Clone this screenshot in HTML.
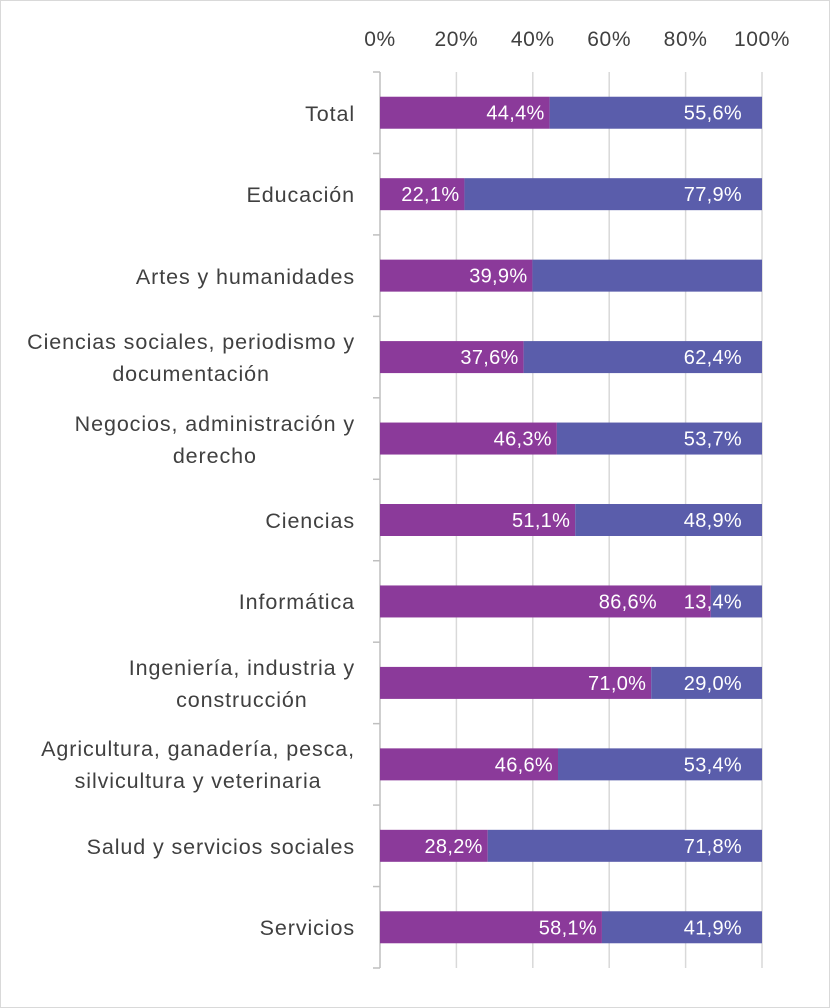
<!DOCTYPE html>
<html><head><meta charset="utf-8"><style>
body{margin:0;width:830px;height:1008px;background:#fff;overflow:hidden;font-family:"Liberation Sans",sans-serif;position:relative}
#frame{position:absolute;left:0;top:0;width:828px;height:1006px;border:1px solid #d9d9d9}
.cat{position:absolute;right:475px;text-align:center;color:#404040;font-size:21.5px;letter-spacing:0.9px;line-height:32px;white-space:nowrap}
</style></head><body>
<div id="frame"></div>
<svg id="chart" width="830" height="1008" style="position:absolute;left:0;top:0"></svg>
<div id="labels"></div>
<script>
const categories=[["Total"],["Educación"],["Artes y humanidades"],["Ciencias sociales, periodismo y","documentación"],["Negocios, administración y","derecho"],["Ciencias"],["Informática"],["Ingeniería, industria y","construcción"],["Agricultura, ganadería, pesca,","silvicultura y veterinaria"],["Salud y servicios sociales"],["Servicios"]];
const seriesA=[44.4,22.1,39.9,37.6,46.3,51.1,86.6,71.0,46.6,28.2,58.1];
const seriesB=[55.6,77.9,60.1,62.4,53.7,48.9,13.4,29.0,53.4,71.8,41.9];
const showB=[true,true,false,true,true,true,true,true,true,true,true];
const ticks=[0,20,40,60,80,100];
const NS="http://www.w3.org/2000/svg";
const svg=document.getElementById('chart');
const x0=380,x1=762,yTop=72,yBot=968;
const band=(yBot-yTop)/categories.length;
const xs=v=>x0+(x1-x0)*v/100;
const yc=i=>yTop+band*(i+0.5);
const FONT='Liberation Sans, sans-serif';
function el(t,a){const e=document.createElementNS(NS,t);for(const k in a)e.setAttribute(k,a[k]);svg.appendChild(e);return e;}
ticks.forEach(t=>{
 const g=el('line',{x1:xs(t),x2:xs(t),y1:yTop,y2:yBot,stroke:t===0?'#bfbfbf':'#d9d9d9','stroke-width':1.5});
 
 
 const tx=el('text',{x:xs(t),y:46,'text-anchor':'middle','font-size':21,'letter-spacing':0.6,fill:'#404040','font-family':FONT});
 tx.textContent=t+'%';
 
 
});
for(let i=0;i<=categories.length;i++){
 const tk=el('line',{x1:x0-7,x2:x0,y1:yTop+band*i,y2:yTop+band*i,stroke:'#bfbfbf','stroke-width':1.5});
 
 
}
const labels=document.getElementById('labels');
categories.forEach((c,i)=>{
 const cy=yc(i),h=32;
 const a=el('rect',{x:xs(0),y:cy-h/2,width:xs(seriesA[i])-xs(0),height:h,fill:'#8b3a9a'});
 
 
 const b=el('rect',{x:xs(seriesA[i]),y:cy-h/2,width:xs(seriesA[i]+seriesB[i])-xs(seriesA[i]),height:h,fill:'#5a5dab'});
 
 
 const bEnd=xs(seriesA[i]+seriesB[i])-20;
 let aEnd=xs(seriesA[i])-5;
 if(showB[i]) aEnd=Math.min(aEnd,bEnd-56-29);
 const ta=el('text',{x:aEnd,y:cy+7,'text-anchor':'end','font-size':20,'letter-spacing':0.3,fill:'#fff','font-family':FONT});
 ta.textContent=seriesA[i].toFixed(1).replace('.',',')+'%';
 
 
 if(showB[i]){
  const tb=el('text',{x:bEnd,y:cy+7,'text-anchor':'end','font-size':20,'letter-spacing':0.3,fill:'#fff','font-family':FONT});
  tb.textContent=seriesB[i].toFixed(1).replace('.',',')+'%';
  
  
 }
 const d=document.createElement('div');
 d.className='cat';
 
 
 d.innerHTML=c.join('<br>');
 d.style.top=(cy-c.length*32/2+1)+'px';
 labels.appendChild(d);
});
</script>
</body></html>
